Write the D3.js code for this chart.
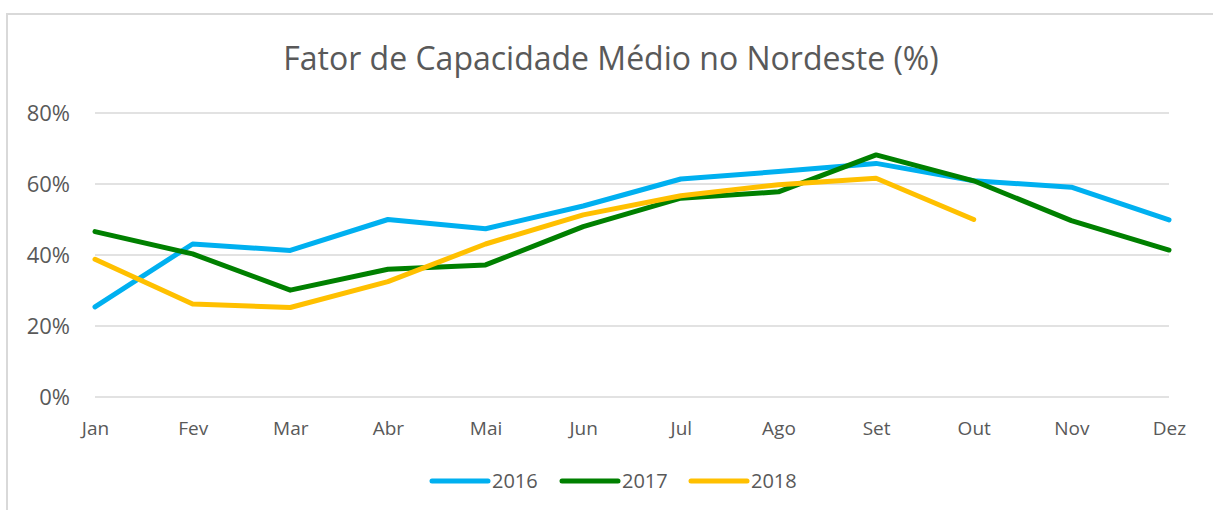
<!DOCTYPE html>
<html>
<head>
<meta charset="utf-8">
<script src="https://cdn.jsdelivr.net/npm/d3@7"></script>
<style>
  body { margin: 0; background: #fff; }
  svg { display: block; font-family: "Open Sans", sans-serif; }
</style>
</head>
<body>
<svg id="chart" width="1213" height="510"></svg>
<script>
const months = ["Jan", "Fev", "Mar", "Abr", "Mai", "Jun", "Jul", "Ago", "Set", "Out", "Nov", "Dez"];
const years = ["2016", "2017", "2018"];
const colors = ["#00b0f0", "#008000", "#ffc000"];

const values2016 = [25.4, 43.1, 41.3, 50.0, 47.4, 53.8, 61.4, 63.5, 65.8, 60.9, 59.1, 49.9];
const values2017 = [46.6, 40.3, 30.1, 36.0, 37.2, 48.0, 56.0, 57.8, 68.2, 60.9, 49.7, 41.4];
const values2018 = [38.8, 26.2, 25.2, 32.5, 43.1, 51.3, 56.7, 59.8, 61.6, 50.0];

const yTicks = [0, 20, 40, 60, 80];

const width = 1213;
const height = 510;

const svg = d3.select("#chart");

// chart frame
svg.append("rect")
   .attr("x", 7)
   .attr("y", 14)
   .attr("width", 1230)
   .attr("height", 520)
   .attr("fill", "none")
   .attr("stroke", "#d9d9d9")
   .attr("stroke-width", 2);

svg.append("text")
   .attr("x", 611)
   .attr("y", 70)
   .attr("text-anchor", "middle")
   .attr("fill", "#595959")
   .style("font-size", "32px")
   .text("Fator de Capacidade Médio no Nordeste (%)");

const x = d3.scalePoint()
            .domain(months)
            .range([95, 1169]);

const y = d3.scaleLinear()
            .domain([0, 80])
            .range([397, 113]);

// gridlines
svg.append("g")
   .selectAll("line")
   .data(yTicks)
   .enter()
   .append("line")
   .attr("x1", 95)
   .attr("x2", 1169)
   .attr("y1", d => y(d))
   .attr("y2", d => y(d))
   .attr("stroke", "#d9d9d9")
   .attr("stroke-width", 1.5);

const yAxis = svg.append("g")
   .attr("transform", "translate(70,0)")
   .call(d3.axisLeft(y).tickValues(yTicks).tickFormat(d => d + "%").tickSize(0).tickPadding(0));
yAxis.select(".domain").remove();
yAxis.selectAll("text")
     .attr("fill", "#595959")
     .style("font-size", "22px")
     .style("font-family", "'Open Sans', sans-serif");

const xAxis = svg.append("g")
   .attr("transform", "translate(0,421)")
   .call(d3.axisBottom(x).tickSize(0).tickPadding(0));
xAxis.select(".domain").remove();
xAxis.selectAll("text")
     .attr("fill", "#595959")
     .attr("dy", "0.71em")
     .style("font-size", "19px")
     .style("font-family", "'Open Sans', sans-serif");

const series = [values2016, values2017, values2018];

const line = d3.line()
               .x((d, i) => x(months[i]))
               .y(d => y(d));

svg.append("g")
   .selectAll("path")
   .data(series)
   .enter()
   .append("path")
   .attr("d", d => line(d))
   .attr("fill", "none")
   .attr("stroke", (d, i) => colors[i])
   .attr("stroke-width", 5)
   .attr("stroke-linejoin", "round")
   .attr("stroke-linecap", "round");

// legend
const legendX = d3.scaleOrdinal()
                  .domain(years)
                  .range([432, 562, 691]);

const legend = svg.append("g")
                  .selectAll("g")
                  .data(years)
                  .enter()
                  .append("g")
                  .attr("transform", d => `translate(${legendX(d)}, 481)`);

legend.append("line")
      .attr("x1", 0)
      .attr("x2", 56)
      .attr("stroke", (d, i) => colors[i])
      .attr("stroke-width", 5)
      .attr("stroke-linecap", "round");

legend.append("text")
      .attr("x", 60)
      .attr("dy", "0.35em")
      .attr("fill", "#595959")
      .style("font-size", "20px")
      .text(d => d);
</script>
</body>
</html>
